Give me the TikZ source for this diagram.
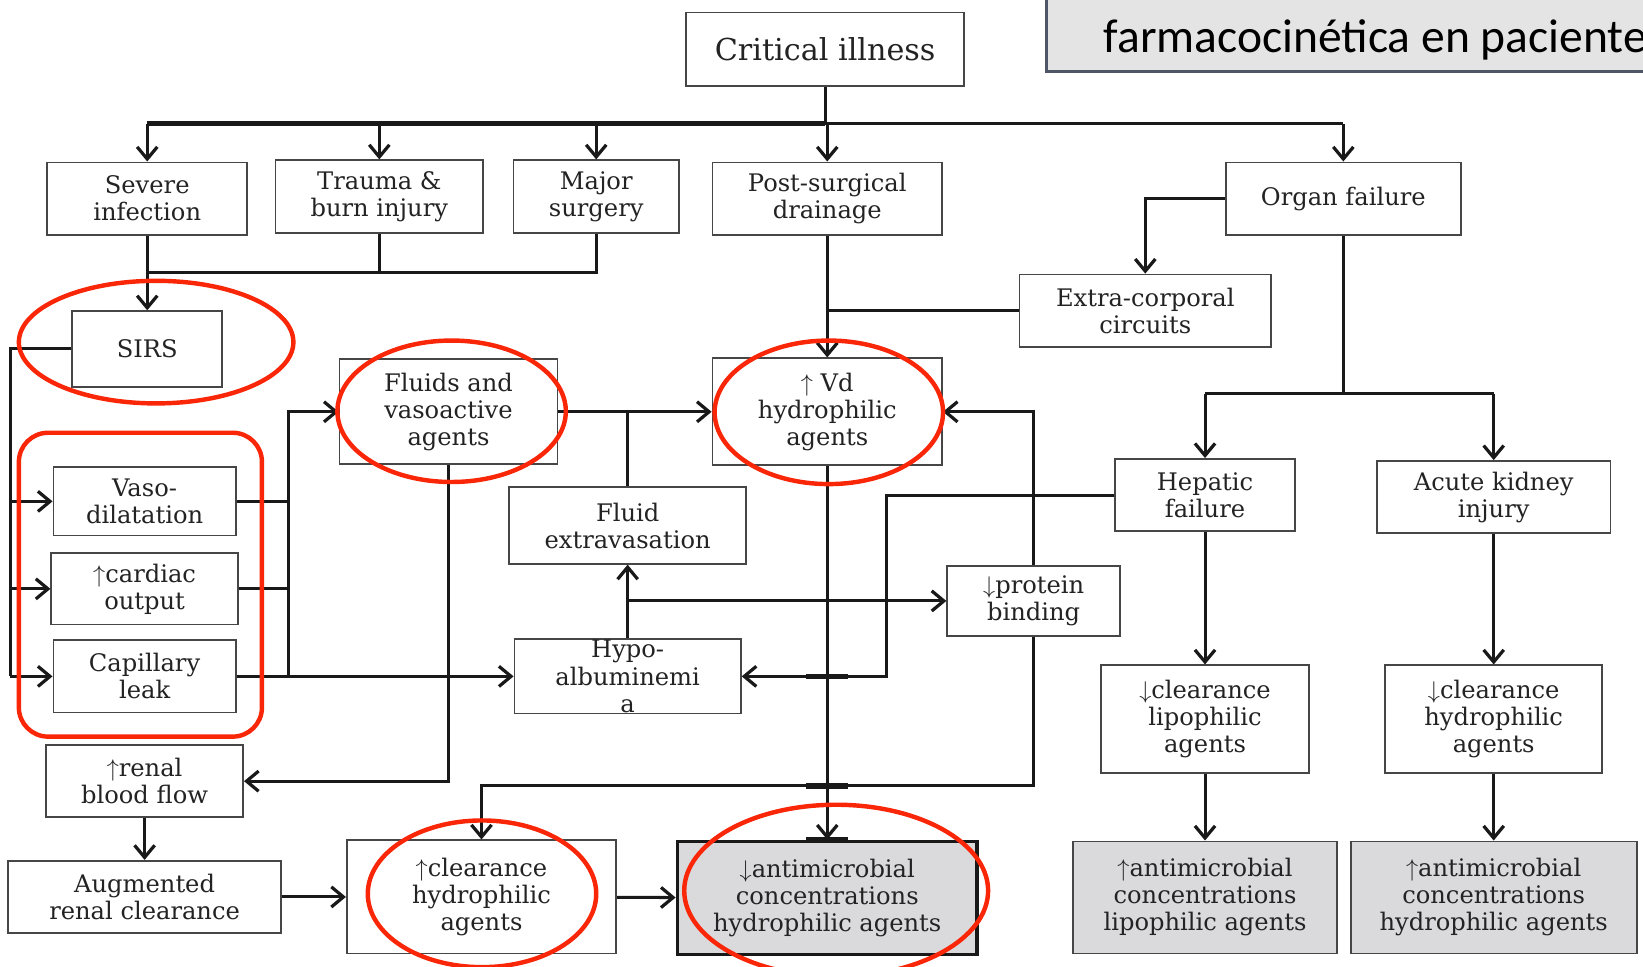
\documentclass[tikz,border=0pt]{standalone}
\usepackage{fontspec}
\setmainfont{DejaVu Serif}
\newfontfamily\slidefont{Carlito}
\usepackage{tikz}
\usetikzlibrary{arrows.meta, positioning, calc}
\definecolor{boxedge}{RGB}{70,70,70}
\definecolor{wirecol}{RGB}{25,25,25}
\definecolor{inkgray}{RGB}{35,35,35}
\definecolor{resultfill}{RGB}{218,218,220}
\definecolor{slidefill}{RGB}{228,228,228}
\definecolor{slideedge}{RGB}{78,86,104}
\definecolor{circlered}{RGB}{250,38,8}
\newcommand{\incr}{$\uparrow$}
\newcommand{\decr}{$\downarrow$}

\begin{document}
\begin{tikzpicture}[
    x=0.52pt, y=-0.52pt,
    box/.style={
        rectangle,
        draw=boxedge,
        line width=0.9pt,
        fill=white,
        align=center,
        inner sep=0pt,
        text=inkgray,
        font=\fontsize{12}{13.4}\selectfont
    },
    result/.style={box, fill=resultfill},
    sz/.style 2 args={minimum width=#1*0.52pt, minimum height=#2*0.52pt},
    wire/.style={line width=1.5pt, draw=wirecol},
    arr/.style={wire, -{Straight Barb[length=6pt, width=10pt, line width=1.6pt]}},
    crossbar/.style={line width=2.8pt, draw=wirecol},
    redring/.style={draw=circlered, line width=2.2pt}
]
\useasboundingbox (0,0) rectangle (1568,922);
\clip (0,0) rectangle (1568,922);

% slide title
\node[draw=slideedge, line width=1.6pt, fill=slidefill, sz={640}{120}, anchor=south west] (slide) at (997,70) {};
\node[font=\slidefont\fontsize{23.6}{27}\selectfont, anchor=base west, inner sep=0pt] (slidetext) at (1053,50) {farmacocinética en paciente};

% top rows
\node[box, sz={265}{70}, font=\fontsize{15}{17}\selectfont] (crit) at (787.5,47) {Critical illness};
\node[box, sz={191}{69}] (sev) at (140.5,189.5) {Severe\\infection};
\node[box, sz={198}{69}] (trauma) at (362,187.5) {Trauma \&\\burn injury};
\node[box, sz={158}{69}] (major) at (569,187.5) {Major\\surgery};
\node[box, sz={219}{69}] (post) at (789.5,189.5) {Post-surgical\\drainage};
\node[box, sz={224}{69}] (organ) at (1282,189.5) {Organ failure};
\node[box, sz={240}{69}] (extra) at (1093,296.5) {Extra-corporal\\circuits};
\node[box, sz={143}{72}] (sirs) at (140.5,333) {SIRS};

% middle rows
\node[box, sz={208}{100}] (fluids) at (428,393) {Fluids and\\vasoactive\\agents};
\node[box, sz={219}{102}] (vd) at (789.5,393) {\incr{} Vd\\hydrophilic\\agents};
\node[box, sz={172}{69}] (hep) at (1150,472.5) {Hepatic\\failure};
\node[box, sz={223}{69}] (aki) at (1425.5,474.5) {Acute kidney\\injury};
\node[box, sz={226}{73}] (fext) at (599,501.5) {Fluid\\extravasation};
\node[box, sz={174}{65}] (vaso) at (138,478.5) {Vaso-\\dilatation};
\node[box, sz={178}{68}] (card) at (138,562) {\incr cardiac\\output};
\node[box, sz={174}{69}] (cap) at (138,645.5) {Capillary\\leak};
\node[box, sz={165}{67}] (prot) at (986.5,573.5) {\decr protein\\binding};
\node[box, sz={216}{71}, label={[align=center, inner sep=0pt, text=inkgray, font=\fontsize{12}{13.6}\selectfont]center:Hypo-\\albuminemi\\a}] (hypo) at (599,645.5) {};
\node[box, sz={198}{103}] (cllip) at (1150,686.5) {\decr clearance\\lipophilic\\agents};
\node[box, sz={207}{103}] (clhyd) at (1425.5,686.5) {\decr clearance\\hydrophilic\\agents};

% bottom rows
\node[box, sz={188}{69}] (renal) at (138,745.5) {\incr renal\\blood flow};
\node[box, sz={260}{69}] (arc) at (138,856) {Augmented\\renal clearance};
\node[box, sz={257}{108}] (clup) at (459.5,856) {\incr clearance\\hydrophilic\\agents};
\node[result, sz={286}{108}, draw=wirecol, line width=1.8pt] (amdown) at (789.5,857) {\decr antimicrobial\\concentrations\\hydrophilic agents};
\node[result, sz={252}{107}] (amlip) at (1150,856.5) {\incr antimicrobial\\concentrations\\lipophilic agents};
\node[result, sz={273}{107}] (amhyd) at (1425.5,856.5) {\incr antimicrobial\\concentrations\\hydrophilic agents};

% helper lines
\coordinate (bus) at (0,118);
\coordinate (join) at (0,260);
\coordinate (rail) at (10,0);
\coordinate (rail2) at (275,0);
\coordinate (hrail) at (846,0);
\coordinate (split) at (0,376);
\coordinate (low) at (0,750);

% critical illness fan out
\draw[wire] (crit.south) -- (crit.south |- bus);
\draw[wire] (sev.north |- bus) -- (organ.north |- bus);
\draw[wire, line width=2.2pt] (sev.north |- bus) -- (crit.south |- bus);
\foreach \n in {sev, trauma, major, post, organ}
    \draw[arr] (\n.north |- bus) -- (\n.north);

% causes to SIRS
\draw[arr] (sev) -- (sirs);
\draw[wire] (trauma.south) -- (trauma.south |- join);
\draw[wire] (major.south) |- (sev.south |- join);

% SIRS to haemodynamic changes
\draw[wire] (sirs.west) -| (rail |- cap.west);
\foreach \n in {vaso, card, cap}
    \draw[arr] (rail |- \n.west) -- (\n.west);
\draw[wire] (vaso.east) -- (rail2 |- vaso.east);
\draw[wire] (card.east) -- (rail2 |- card.east);
\draw[arr] (rail2 |- cap.east) |- (fluids.west);
\draw[arr] (cap.east) -- (hypo.west);

% fluids and volume of distribution
\draw[arr] (fluids.east) -- (vd.west);
\draw[wire] (fext.north) -- (fext.north |- fluids.east);
\draw[arr] (fluids.south) |- (renal.east);
\draw[arr] (hypo.north) -- (fext.south);
\draw[arr] (hypo.north |- prot.west) -- (prot.west);
\draw[arr] (post) -- (vd);
\draw[wire] (extra.west) -- (post.south |- extra.west);
\draw[arr] (organ.west) -| (extra.north);

% organ failure branch
\draw[wire] (organ.south) -- (organ.south |- split);
\draw[wire] (hep.north |- split) -- (aki.north |- split);
\draw[arr] (hep.north |- split) -- (hep.north);
\draw[arr] (aki.north |- split) -- (aki.north);
\draw[arr] (hep.west) -| (hrail |- hypo.east) -- (hypo.east);
\draw[arr] (hep) -- (cllip);
\draw[arr] (cllip) -- (amlip);
\draw[arr] (aki) -- (clhyd);
\draw[arr] (clhyd) -- (amhyd);

% protein binding and outcomes
\draw[arr] (prot.north) |- (vd.east);
\draw[arr] (prot.south) |- (clup.north |- low) -- (clup.north);
\draw[arr] (vd.south) -- (amdown.north);
\draw[arr] (renal) -- (arc);
\draw[arr] (arc) -- (clup);
\draw[arr] (clup) -- (amdown);
\draw[crossbar] ($(vd.south |- hypo.east)+(-20,0)$) -- ++(40,0);
\draw[crossbar] ($(vd.south |- low)+(-20,0)$) -- ++(40,0);
\draw[crossbar] ($(amdown.north)+(-20,0)$) -- ++(40,0);

% red highlights
\draw[redring] (149,326.5) ellipse [x radius=131, y radius=58.5];
\draw[redring] (431,392.5) ellipse [x radius=109, y radius=67.5];
\draw[redring] (791,393.5) ellipse [x radius=109, y radius=68.5];
\draw[redring] (460,853) ellipse [x radius=109, y radius=70];
\draw[redring] (798,850) ellipse [x radius=145, y radius=82];
\draw[redring, rounded corners=14.5pt] (18,413) rectangle (250,703);

\end{tikzpicture}
\end{document}
